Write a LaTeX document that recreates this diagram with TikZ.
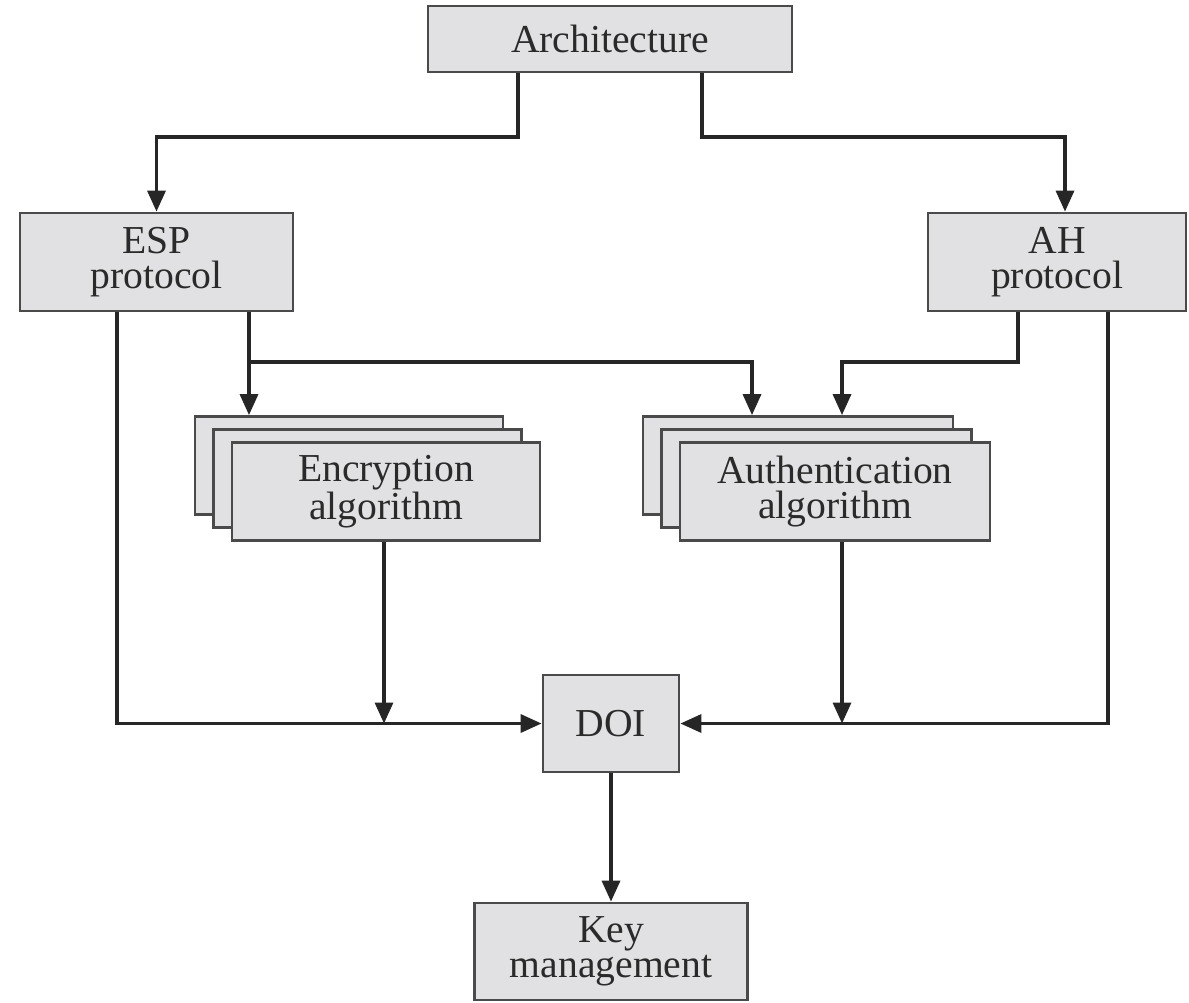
\documentclass[tikz,border=0pt]{standalone}
\usepackage{fontspec}
\setmainfont{Liberation Serif}
\usetikzlibrary{arrows.meta}
\definecolor{boxfill}{HTML}{E1E1E3}
\definecolor{boxline}{HTML}{4A4A4A}
\definecolor{ink}{HTML}{2A2A2A}
\begin{document}
\begin{tikzpicture}[x=0.5pt,y=-0.5pt,
  box/.style={draw=boxline, fill=boxfill, line width=1.4pt, inner sep=0pt,
    align=center, text=ink, font=\fontsize{19.8pt}{17.5pt}\selectfont},
  conn/.style={draw=black!85, line width=1.7pt, line join=miter},
  arr/.style={conn, -{Triangle[length=10.5pt,width=9pt]}}]

\useasboundingbox (0,0) rectangle (1189,1002);

% boxes
\node[box, minimum width=182pt, minimum height=33pt] (arch) at (610,39) {Architecture};
\node[box, minimum width=136.5pt, minimum height=49pt] (esp) at (156.5,262) {ESP\\protocol};
\node[box, minimum width=129pt, minimum height=49pt] (ah) at (1057,262) {AH\\protocol};

% stacked algorithm boxes
\node[box, minimum width=154pt, minimum height=49pt] (encA) at (349,465.5) {};
\node[box, minimum width=154pt, minimum height=49pt] (encB) at (367.5,478.5) {};
\node[box, minimum width=154pt, minimum height=49pt] (encC) at (386,491.5) {Encryption\\algorithm};

\node[box, minimum width=155pt, minimum height=49pt] (authA) at (798,465.5) {};
\node[box, minimum width=155pt, minimum height=49pt] (authB) at (816.5,478.5) {};
\node[box, minimum width=155pt, minimum height=49pt] (authC) at (835,491.5) {Authentication\\algorithm};

\node[box, minimum width=68pt, minimum height=48.5pt] (doi) at (611,723.5) {DOI};
\node[box, minimum width=136.5pt, minimum height=48.5pt] (key) at (611,951.5) {Key\\management};

% connector columns and rows
\coordinate (cArchL) at (518,0);
\coordinate (cArchR) at (702,0);
\coordinate (cAhIn) at (1065,0);
\coordinate (cEspOutL) at (117,0);
\coordinate (cEspOutR) at (249,0);
\coordinate (cAuthIn1) at (752,0);
\coordinate (cAuthIn2) at (842,0);
\coordinate (cAhOutL) at (1018,0);
\coordinate (cAhOutR) at (1108,0);
\coordinate (cEncDown) at (384,0);
\coordinate (cAuthDown) at (842,0);
\coordinate (cBusTop) at (0,137);
\coordinate (cBusMid) at (0,362);
\coordinate (cBusLow) at (0,723.5);

% connectors
\draw[arr] (arch.south -| cArchL) |- (cBusTop -| esp.north) -- (esp.north);
\draw[arr] (arch.south -| cArchR) |- (cBusTop -| cAhIn) -- (ah.north -| cAhIn);
\draw[arr] (esp.south -| cEspOutR) -- (encA.north -| cEspOutR);
\draw[arr] (cBusMid -| cEspOutR) -| (authA.north -| cAuthIn1);
\draw[arr] (ah.south -| cAhOutL) |- (cBusMid -| cAuthIn2) -- (authA.north -| cAuthIn2);
\draw[arr] (esp.south -| cEspOutL) |- (doi.west);
\draw[arr] (encC.south -| cEncDown) -- (cBusLow -| cEncDown);
\draw[arr] (authC.south -| cAuthDown) -- (cBusLow -| cAuthDown);
\draw[arr] (ah.south -| cAhOutR) |- (doi.east);
\draw[arr] (doi.south) -- (key.north);
\end{tikzpicture}
\end{document}
